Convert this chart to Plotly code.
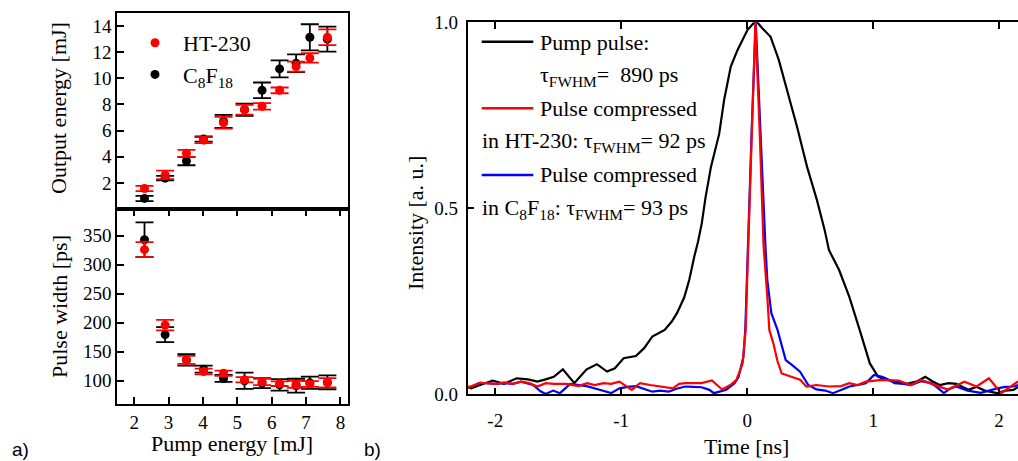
import plotly.graph_objects as go

# ---------------- data: panel a ----------------
pump_energy = [2.30, 2.90, 3.52, 4.02, 4.60, 5.21, 5.72, 6.23, 6.71, 7.11, 7.62]

out_ht230 = [1.57, 2.61, 4.26, 5.27, 6.60, 7.60, 7.86, 9.08, 10.90, 11.56, 13.14]
out_ht230_err = [0.20, 0.32, 0.27, 0.23, 0.45, 0.38, 0.25, 0.22, 0.38, 0.36, 0.60]
out_c8f18 = [0.81, 2.36, 3.67, 5.35, 6.70, 7.60, 9.08, 10.72, 11.16, 13.14, 13.00]
out_c8f18_err = [0.20, 0.17, 0.32, 0.20, 0.50, 0.47, 0.60, 0.65, 0.68, 1.00, 0.95]

pw_ht230 = [326, 196, 136, 116, 113, 101.7, 98, 95, 94, 94.5, 96.5]
pw_ht230_err = [13, 9, 7, 5, 4.5, 4.5, 5.5, 4, 6, 5, 8]
pw_c8f18 = [343, 179.6, 136, 120, 104, 100, 96, 93, 91.5, 96.5, 97.4]
pw_c8f18_err = [30, 13, 10, 6, 6, 14, 8.5, 10, 12, 10.5, 12]

# ---------------- data: panel b ----------------
t_pump = [-2.22, -2.19, -2.12, -2.02, -1.93, -1.83, -1.74, -1.665, -1.60, -1.535, -1.463,
          -1.42, -1.372, -1.32, -1.274, -1.193, -1.112, -1.05, -1.014, -0.981, -0.883,
          -0.818, -0.753, -0.70, -0.655, -0.60, -0.557, -0.50, -0.46, -0.42, -0.39,
          -0.36, -0.33, -0.287, -0.222, -0.183, -0.130, -0.077, 0.002, 0.054, 0.08,
          0.12, 0.186, 0.251, 0.317, 0.396, 0.475, 0.554, 0.615, 0.649, 0.73, 0.811,
          0.893, 0.974, 1.04, 1.10, 1.17, 1.268, 1.35, 1.414, 1.47, 1.528, 1.60, 1.659,
          1.756, 1.82, 1.887, 1.984, 2.05, 2.115, 2.15]
i_pump = [0.020, 0.016, 0.025, 0.037, 0.028, 0.043, 0.040, 0.034, 0.040, 0.047, 0.067,
          0.050, 0.030, 0.050, 0.067, 0.081, 0.061, 0.070, 0.083, 0.097, 0.103,
          0.124, 0.155, 0.165, 0.173, 0.195, 0.218, 0.260, 0.307, 0.370, 0.410,
          0.460, 0.530, 0.612, 0.700, 0.791, 0.881, 0.925, 0.979, 0.999, 1.000,
          0.984, 0.961, 0.899, 0.818, 0.719, 0.612, 0.522, 0.442, 0.388, 0.334, 0.262,
          0.173, 0.083, 0.047, 0.040, 0.034, 0.028, 0.035, 0.047, 0.035, 0.025, 0.030, 0.028,
          0.012, 0.020, 0.010, 0.003, 0.010, 0.012, 0.020]

t_c8f18 = [-2.22, -2.19, -2.122, -2.05, -1.991, -1.93, -1.861, -1.795, -1.70, -1.64, -1.60,
           -1.54, -1.486, -1.405, -1.34, -1.274, -1.20, -1.12, -1.079, -1.014, -0.95,
           -0.883, -0.82, -0.753, -0.69, -0.623, -0.56, -0.492, -0.43, -0.362, -0.30,
           -0.264, -0.166, -0.10, -0.068, -0.030, -0.015, 0.000, 0.035, 0.068, 0.105,
           0.146, 0.16, 0.192, 0.241, 0.275, 0.306, 0.355, 0.42, 0.485, 0.55, 0.62,
           0.681, 0.75, 0.811, 0.88, 0.942, 1.007, 1.072, 1.12, 1.17, 1.24, 1.30, 1.38,
           1.463, 1.52, 1.561, 1.61, 1.659, 1.75, 1.854, 1.92, 1.984, 2.05, 2.115, 2.15]
i_c8f18 = [0.020, 0.021, 0.031, 0.030, 0.028, 0.030, 0.028, 0.034, 0.025, 0.008, 0.001,
           0.010, 0.003, 0.028, 0.025, 0.022, 0.015, 0.008, 0.003, 0.016, 0.020,
           0.022, 0.015, 0.007, 0.010, 0.007, 0.015, 0.021, 0.020, 0.019, 0.012,
           0.003, 0.012, 0.030, 0.047, 0.100, 0.173, 0.350, 0.700, 1.000, 0.700,
           0.392, 0.307, 0.218, 0.173, 0.130, 0.092, 0.079, 0.061, 0.025, 0.013, 0.010,
           0.003, 0.012, 0.021, 0.025, 0.030, 0.052, 0.047, 0.040, 0.030, 0.028, 0.025, 0.035,
           0.030, 0.015, 0.003, 0.015, 0.021, 0.010, 0.004, 0.010, 0.016, 0.020, 0.021, 0.025]

t_ht230 = [-2.22, -2.19, -2.122, -2.05, -1.991, -1.93, -1.861, -1.795, -1.73, -1.665, -1.60,
           -1.535, -1.437, -1.34, -1.27, -1.21, -1.14, -1.079, -1.014, -0.916, -0.851,
           -0.77, -0.687, -0.59, -0.54, -0.492, -0.43, -0.362, -0.28, -0.24, -0.199,
           -0.133, -0.085, -0.036, -0.012, 0.000, 0.008, 0.035, 0.065, 0.100, 0.130,
           0.160, 0.176, 0.208, 0.240, 0.274, 0.355, 0.42, 0.47, 0.55, 0.649, 0.746,
           0.81, 0.877, 0.942, 1.072, 1.202, 1.30, 1.382, 1.463, 1.593, 1.724, 1.821,
           1.919, 2.017, 2.115, 2.15]
i_ht230 = [0.020, 0.021, 0.031, 0.030, 0.028, 0.032, 0.028, 0.034, 0.030, 0.021, 0.030,
           0.028, 0.028, 0.022, 0.030, 0.025, 0.030, 0.028, 0.034, 0.012, 0.030,
           0.025, 0.021, 0.016, 0.028, 0.030, 0.030, 0.030, 0.037, 0.025, 0.013,
           0.025, 0.039, 0.083, 0.173, 0.307, 0.400, 0.700, 1.000, 0.700, 0.400,
           0.262, 0.173, 0.137, 0.090, 0.056, 0.047, 0.039, 0.021, 0.025, 0.021, 0.022,
           0.030, 0.025, 0.034, 0.039, 0.037, 0.025, 0.039, 0.028, 0.013, 0.034, 0.021,
           0.043, 0.003, 0.025, 0.035]

top_ticks = [2, 4, 6, 8, 10, 12, 14]
bot_ticks = [100, 150, 200, 250, 300, 350]
pump_ticks = [2, 3, 4, 5, 6, 7, 8]
time_ticks = [-2, -1, 0, 1, 2]
time_labels = ["-2", "-1", "0", "1", "2"]
int_ticks = [0, 0.5, 1.0]
int_labels = ["0.0", "0.5", "1.0"]

W, H = 1018, 461
SERIF = "Liberation Serif"
SANS = "Liberation Sans"
RED = "#ff0000"
BLUE = "#0000ff"
BLACK = "#000000"


def px(x):
    return x / W


def py(y):
    return 1 - y / H


fig = go.Figure()

# panel a, top
fig.add_trace(go.Scatter(x=pump_energy, y=out_c8f18, mode="markers", name="C<sub>8</sub>F<sub>18</sub>",
                         marker=dict(color=BLACK, size=9),
                         error_y=dict(type="data", array=out_c8f18_err, color=BLACK, thickness=1.8, width=9),
                         xaxis="x", yaxis="y", legendrank=2))
fig.add_trace(go.Scatter(x=pump_energy, y=out_ht230, mode="markers", name="HT-230",
                         marker=dict(color=RED, size=9),
                         error_y=dict(type="data", array=out_ht230_err, color=RED, thickness=1.8, width=9),
                         xaxis="x", yaxis="y", legendrank=1))
# panel a, bottom
fig.add_trace(go.Scatter(x=pump_energy, y=pw_c8f18, mode="markers", showlegend=False,
                         marker=dict(color=BLACK, size=9),
                         error_y=dict(type="data", array=pw_c8f18_err, color=BLACK, thickness=1.8, width=9),
                         xaxis="x2", yaxis="y2"))
fig.add_trace(go.Scatter(x=pump_energy, y=pw_ht230, mode="markers", showlegend=False,
                         marker=dict(color=RED, size=9),
                         error_y=dict(type="data", array=pw_ht230_err, color=RED, thickness=1.8, width=9),
                         xaxis="x2", yaxis="y2"))
# panel b
fig.add_trace(go.Scatter(x=t_pump, y=i_pump, mode="lines", showlegend=False,
                         line=dict(color=BLACK, width=2.2), xaxis="x3", yaxis="y3"))
fig.add_trace(go.Scatter(x=t_c8f18, y=i_c8f18, mode="lines", showlegend=False,
                         line=dict(color=BLUE, width=2.2), xaxis="x3", yaxis="y3"))
fig.add_trace(go.Scatter(x=t_ht230, y=i_ht230, mode="lines", showlegend=False,
                         line=dict(color=RED, width=2.2), xaxis="x3", yaxis="y3"))

tickfont = dict(family=SERIF, size=19, color=BLACK)
common = dict(showline=True, linecolor=BLACK, linewidth=1.6, showgrid=False, zeroline=False,
              tickfont=tickfont, ticklen=7, tickwidth=1.5, tickcolor=BLACK)

left_dom = [px(117), px(348)]
fig.update_layout(
    width=W, height=H,
    margin=dict(l=0, r=0, t=0, b=0, autoexpand=False),
    paper_bgcolor="white", plot_bgcolor="white",
    font=dict(family=SERIF, size=22, color=BLACK),
    xaxis=dict(domain=left_dom, range=[1.5, 8.22], anchor="y", mirror=True, ticks="",
               showticklabels=False, **common),
    yaxis=dict(domain=[py(209), py(13)], range=[0, 15], anchor="x", mirror=True, ticks="inside",
               tickvals=top_ticks, **common),
    xaxis2=dict(domain=left_dom, range=[1.5, 8.22], anchor="y2", mirror="ticks", ticks="inside",
                tickvals=pump_ticks, ticklabelstandoff=0, **common),
    yaxis2=dict(domain=[py(404), py(209)], range=[60, 396], anchor="x2", mirror=True, ticks="inside",
                tickvals=bot_ticks, **common),
    xaxis3=dict(domain=[px(467.5), 1.0], range=[-2.22, 2.15], anchor="y3", mirror="ticks", ticks="inside",
                tickvals=time_ticks, ticktext=time_labels, ticklabelstandoff=8, **common),
    yaxis3=dict(domain=[py(394.3), py(22.3)], range=[0, 1.0], anchor="x3", mirror=False, ticks="inside",
                tickvals=int_ticks, ticktext=int_labels, ticklabelstandoff=4, **common),
    legend=dict(x=px(127), y=py(22), xanchor="left", yanchor="top", bgcolor="rgba(0,0,0,0)",
                font=dict(family=SERIF, size=22, color=BLACK), itemwidth=46, tracegroupgap=0),
    showlegend=True,
)

annots = [
    dict(text="Output energy [mJ]", x=px(58), y=py(108), textangle=-90),
    dict(text="Pulse width [ps]", x=px(59), y=py(307), textangle=-90),
    dict(text="Pump energy [mJ]", x=px(232), y=py(443)),
    dict(text="Intensity [a. u.]", x=px(415), y=py(223), textangle=-90),
    dict(text="Time [ns]", x=px(746), y=py(446.5)),
]
for a in annots:
    fig.add_annotation(xref="paper", yref="paper", showarrow=False, xanchor="center", yanchor="middle",
                       font=dict(family=SERIF, size=22, color=BLACK), **a)

for lab, x in [("a)", 20), ("b)", 372)]:
    fig.add_annotation(text=lab, x=px(x), y=py(449), xref="paper", yref="paper", showarrow=False,
                       xanchor="center", yanchor="middle", borderpad=0,
                       font=dict(family=SANS, size=19, color=BLACK))

# legend of panel b
leg_lines = [(41.7, BLACK), (108.3, RED), (175, BLUE)]
for yy, col in leg_lines:
    fig.add_shape(type="line", xref="paper", yref="paper", x0=px(481.7), x1=px(533.3), y0=py(yy), y1=py(yy),
                  line=dict(color=col, width=2.5))
leg_texts = [
    ("Pump pulse:", 538, 42),
    ("τ<sub>FWHM</sub>=  890 ps", 538, 76),
    ("Pulse compressed", 538, 108),
    ("in HT-230: τ<sub>FWHM</sub>= 92 ps", 480, 142),
    ("Pulse compressed", 538, 175),
    ("in C<sub>8</sub>F<sub>18</sub>: τ<sub>FWHM</sub>= 93 ps", 480, 209),
]
for txt, x, y in leg_texts:
    fig.add_annotation(text=txt, x=px(x), y=py(y), xref="paper", yref="paper", showarrow=False,
                       xanchor="left", yanchor="middle", font=dict(family=SERIF, size=22, color=BLACK))

fig.write_html("out.html", config={"displayModeBar": False},
               post_script="document.body.style.margin='0px';document.body.style.overflow='hidden';")
